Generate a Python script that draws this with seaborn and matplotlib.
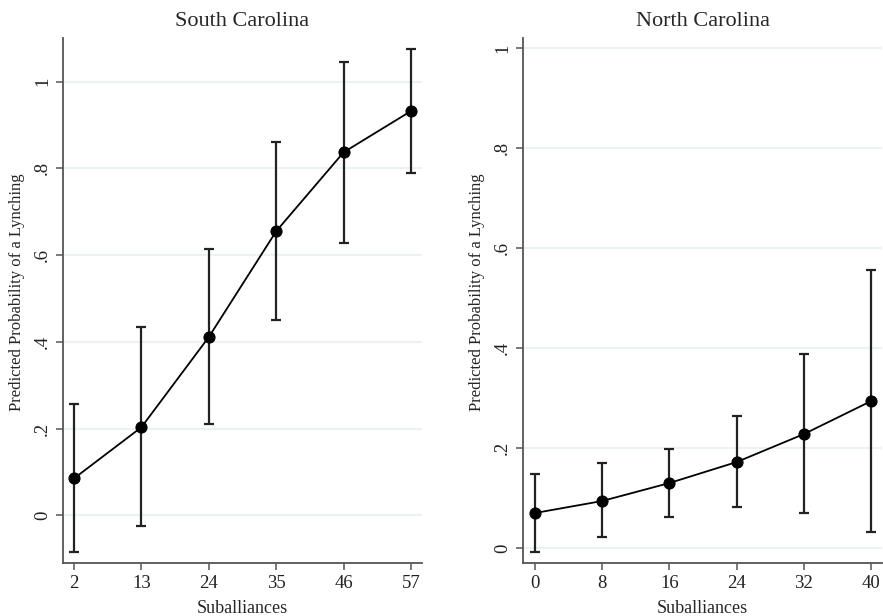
import matplotlib
matplotlib.use("Agg")
import matplotlib.pyplot as plt
import seaborn as sns
import pandas as pd

# South Carolina
sc_x = [2, 13, 24, 35, 46, 57]
sc_est = [0.085, 0.203, 0.411, 0.655, 0.837, 0.932]
sc_lo = [-0.085, -0.025, 0.210, 0.450, 0.628, 0.789]
sc_hi = [0.256, 0.434, 0.614, 0.860, 1.045, 1.075]

# North Carolina
nc_x = [0, 8, 16, 24, 32, 40]
nc_est = [0.070, 0.094, 0.130, 0.172, 0.228, 0.294]
nc_lo = [-0.008, 0.022, 0.062, 0.082, 0.070, 0.032]
nc_hi = [0.148, 0.170, 0.198, 0.264, 0.388, 0.556]

y_ticks = [0, 0.2, 0.4, 0.6, 0.8, 1.0]
y_ticklabels = ["0", ".2", ".4", ".6", ".8", "1"]

sns.set_style("white")
plt.rcParams['font.family'] = ['Liberation Serif', 'DejaVu Serif']

fig = plt.figure(figsize=(8.83, 6.16), dpi=100)
ax1 = fig.add_axes([0.0713, 0.086, 0.4067, 0.852])
ax2 = fig.add_axes([0.5923, 0.086, 0.4067, 0.852])


def draw_panel(ax, title, x, est, lo, hi, xlim, ylim):
    df = pd.DataFrame({'x': x, 'est': est, 'lo': lo, 'hi': hi})
    ax.errorbar(df['x'], df['est'],
                yerr=[df['est'] - df['lo'], df['hi'] - df['est']],
                fmt='none', ecolor='#222222', elinewidth=1.6,
                capsize=3.5, capthick=1.6, zorder=2)
    sns.lineplot(data=df, x='x', y='est', ax=ax, color='black',
                 linewidth=1.3, marker='o', markersize=8,
                 markeredgecolor='black', zorder=3)
    ax.set_xlim(*xlim)
    ax.set_ylim(*ylim)
    ax.set_xticks(x)
    ax.set_xticklabels([str(v) for v in x], fontsize=13.5)
    ax.set_yticks(y_ticks)
    ax.set_yticklabels(y_ticklabels, fontsize=13.5, rotation=90, va='center')
    ax.yaxis.grid(True, color='#e6eff1', linewidth=1.1)
    ax.set_axisbelow(True)
    ax.set_title(title, fontsize=16, pad=9)
    ax.set_xlabel('Suballiances', fontsize=13, labelpad=6)
    ax.set_ylabel('Predicted Probability of a Lynching', fontsize=12)
    ax.yaxis.set_label_coords(-0.105, 0.516)
    sns.despine(ax=ax)
    for side in ['left', 'bottom']:
        ax.spines[side].set_color('#555555')
        ax.spines[side].set_linewidth(1.3)
    ax.tick_params(axis='both', direction='out', length=5, width=1.1,
                   color='#555555', labelcolor='#222222', left=True, bottom=True)


draw_panel(ax1, 'South Carolina', sc_x, sc_est, sc_lo, sc_hi,
           (0.2, 58.8), (-0.11, 1.10))
draw_panel(ax2, 'North Carolina', nc_x, nc_est, nc_lo, nc_hi,
           (-1.4, 41.3), (-0.03, 1.02))

fig.savefig('out.png', dpi=100)
